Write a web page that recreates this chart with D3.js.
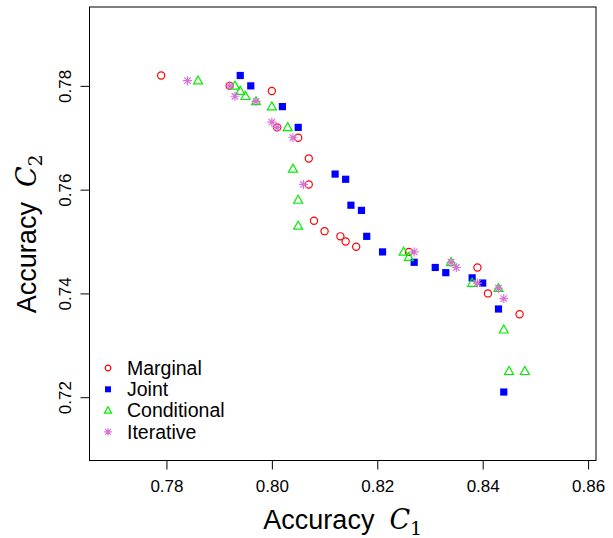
<!DOCTYPE html>
<html>
<head>
<meta charset="utf-8">
<script src="https://cdn.jsdelivr.net/npm/d3@7"></script>
<style>
  body { margin: 0; background: #fff; }
  svg text { font-family: "Liberation Sans", Arial, Helvetica, sans-serif; fill: #000; }
</style>
</head>
<body>
<script>
// [accuracy C1, accuracy C2]
const marginal = [
  [0.779, 0.782], [0.792, 0.780], [0.800, 0.779], [0.801, 0.772], [0.805, 0.770],
  [0.807, 0.766], [0.807, 0.761], [0.808, 0.754], [0.810, 0.752], [0.813, 0.751],
  [0.814, 0.750], [0.816, 0.749], [0.826, 0.748], [0.839, 0.745], [0.841, 0.740],
  [0.847, 0.736]
];
const joint = [
  [0.794, 0.782], [0.796, 0.780], [0.802, 0.776], [0.805, 0.772], [0.812, 0.763],
  [0.814, 0.762], [0.815, 0.757], [0.817, 0.756], [0.818, 0.751], [0.821, 0.748],
  [0.827, 0.746], [0.831, 0.745], [0.833, 0.744], [0.838, 0.743], [0.840, 0.742],
  [0.843, 0.737], [0.844, 0.721]
];
const conditional = [
  [0.786, 0.781], [0.793, 0.780], [0.794, 0.779], [0.795, 0.778], [0.797, 0.777],
  [0.800, 0.776], [0.803, 0.772], [0.804, 0.764], [0.805, 0.758], [0.805, 0.753],
  [0.825, 0.748], [0.826, 0.747], [0.834, 0.746], [0.838, 0.742], [0.843, 0.741],
  [0.844, 0.733], [0.845, 0.725], [0.848, 0.725]
];
const iterative = [
  [0.784, 0.781], [0.792, 0.780], [0.793, 0.778], [0.797, 0.777], [0.800, 0.773],
  [0.801, 0.772], [0.804, 0.770], [0.806, 0.761], [0.827, 0.748], [0.834, 0.746],
  [0.835, 0.745], [0.839, 0.742], [0.843, 0.741], [0.844, 0.739]
];
const xTicks = [0.78, 0.80, 0.82, 0.84, 0.86];
const yTicks = [0.72, 0.74, 0.76, 0.78];
const seriesNames = ["Marginal", "Joint", "Conditional", "Iterative"];

const width = 613, height = 538;
const box = { left: 89.5, right: 596, top: 7, bottom: 460.5 };

const x = d3.scaleLinear().domain([0.7654, 0.8615]).range([box.left, box.right]);
const y = d3.scaleLinear().domain([0.7078, 0.7952]).range([box.bottom, box.top]);

const svg = d3.select("body").append("svg")
  .attr("width", width)
  .attr("height", height);

svg.append("rect")
  .attr("x", box.left).attr("y", box.top)
  .attr("width", box.right - box.left).attr("height", box.bottom - box.top)
  .attr("fill", "none").attr("stroke", "#000").attr("stroke-width", 1);

// axes, R style: ticks outside, labels centered
const xAxis = svg.append("g")
  .attr("transform", `translate(0,${box.bottom})`)
  .call(d3.axisBottom(x).tickValues(xTicks).tickFormat(d3.format(".2f")).tickSize(9).tickPadding(10));
xAxis.select(".domain").attr("d", `M${x(0.78)},0H${x(0.86)}`);
xAxis.selectAll("text").attr("font-size", 17).attr("font-family", null);

const yAxis = svg.append("g")
  .attr("transform", `translate(${box.left},0)`)
  .call(d3.axisLeft(y).tickValues(yTicks).tickFormat(d3.format(".2f")).tickSize(9));
yAxis.select(".domain").attr("d", `M0,${y(0.72)}V${y(0.78)}`);
yAxis.selectAll("text")
  .attr("font-size", 17).attr("font-family", null)
  .attr("x", null).attr("dy", null)
  .attr("text-anchor", "middle")
  .attr("transform", "translate(-19,0) rotate(-90)");

// axis titles with math C
const xTitle = svg.append("text")
  .attr("x", (box.left + box.right) / 2).attr("y", 529)
  .attr("text-anchor", "middle").attr("font-size", 27);
xTitle.append("tspan").text("Accuracy\u00a0 ");
xTitle.append("tspan").attr("font-family", "DejaVu Serif, serif").attr("font-style", "italic").attr("font-size", 27).text("C");
xTitle.append("tspan").attr("font-family", "DejaVu Serif, serif").attr("font-size", 19).attr("dy", 6).text("1");

const yTitle = svg.append("text")
  .attr("transform", `translate(36,${(box.top + box.bottom) / 2}) rotate(-90)`)
  .attr("text-anchor", "middle").attr("font-size", 27);
yTitle.append("tspan").text("Accuracy\u00a0 ");
yTitle.append("tspan").attr("font-family", "DejaVu Serif, serif").attr("font-style", "italic").attr("font-size", 27).text("C");
yTitle.append("tspan").attr("font-family", "DejaVu Serif, serif").attr("font-size", 19).attr("dy", 6).text("2");

// marker shapes (R pch 1, 15, 2, 8)
function circlePath(s) {
  const p = d3.path(); p.arc(0, 0, s, 0, 2 * Math.PI); return p.toString();
}
function squarePath(s) {
  const p = d3.path(); p.rect(-s, -s, 2 * s, 2 * s); return p.toString();
}
function trianglePath(s) {
  const p = d3.path();
  p.moveTo(0, -s * 1.05); p.lineTo(s, s * 0.72); p.lineTo(-s, s * 0.72); p.closePath();
  return p.toString();
}
function starPath(s) {
  const p = d3.path(), d = s * 0.72;
  p.moveTo(-s, 0); p.lineTo(s, 0);
  p.moveTo(0, -s); p.lineTo(0, s);
  p.moveTo(-d, -d); p.lineTo(d, d);
  p.moveTo(-d, d); p.lineTo(d, -d);
  return p.toString();
}

const series = [
  { name: seriesNames[0], data: marginal, shape: circlePath, size: 3.6, legendSize: 2.8, fill: "none", stroke: "#ff0000", sw: 1.2 },
  { name: seriesNames[1], data: joint, shape: squarePath, size: 3.6, legendSize: 3, fill: "#0000ff", stroke: "none", sw: 0 },
  { name: seriesNames[2], data: conditional, shape: trianglePath, size: 4.5, legendSize: 3.6, fill: "none", stroke: "#00ee00", sw: 1.2 },
  { name: seriesNames[3], data: iterative, shape: starPath, size: 4.5, legendSize: 3.8, fill: "none", stroke: "#da70d6", sw: 1.2 }
];

series.forEach(s => {
  svg.append("g").selectAll("path")
    .data(s.data)
    .join("path")
    .attr("transform", d => `translate(${x(d[0])},${y(d[1])})`)
    .attr("d", s.shape(s.size))
    .attr("fill", s.fill)
    .attr("stroke", s.stroke)
    .attr("stroke-width", s.sw);
});

// legend, bottom left, no frame
const legend = svg.append("g").attr("transform", "translate(108,368)");
const row = legend.selectAll("g")
  .data(series)
  .join("g")
  .attr("transform", (d, i) => `translate(0,${i * 21.3})`);
row.append("path")
  .attr("d", d => d.shape(d.legendSize))
  .attr("fill", d => d.fill)
  .attr("stroke", d => d.stroke)
  .attr("stroke-width", d => d.sw);
row.append("text")
  .attr("x", 19).attr("dy", "0.35em")
  .attr("font-size", 19.5)
  .text(d => d.name);
</script>
</body>
</html>
